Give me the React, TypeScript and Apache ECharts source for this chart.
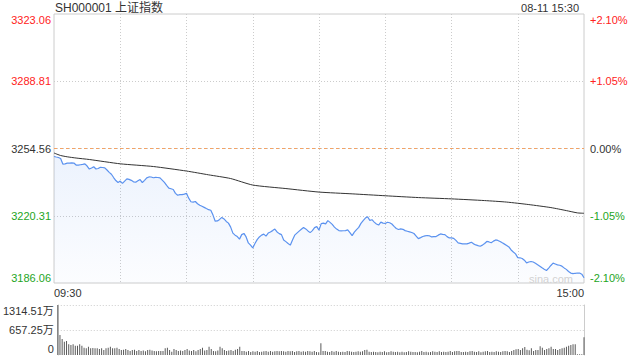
import React, { useEffect, useRef } from 'react';
import * as echarts from 'echarts';

const TITLE = 'SH000001 上证指数';
const DATE_TIME = '08-11 15:30';
const WATERMARK = 'sina.com';
const PREV_CLOSE = 3254.56;
const TIME_LABELS = ['09:30', '15:00'];

// minute prices, 09:30 .. 11:30 / 13:00 .. 15:00 (241 points)
const PRICE = [
  3250.48, 3250.22, 3249.97, 3249.46, 3246.65, 3246.70, 3247.11, 3247.16, 3247.22, 3247.16,
  3246.14, 3246.10, 3246.30, 3246.50, 3246.76, 3245.63, 3244.10, 3244.61, 3245.28, 3244.10,
  3244.36, 3245.02, 3244.87, 3244.72, 3243.59, 3242.42, 3241.45, 3239.77, 3238.24, 3237.22,
  3237.98, 3236.81, 3237.98, 3239.11, 3238.85, 3238.34, 3237.58, 3237.42, 3238.14, 3238.75,
  3237.22, 3238.34, 3239.62, 3240.08, 3240.05, 3239.67, 3239.82, 3239.80, 3239.62, 3238.49,
  3237.32, 3235.79, 3234.41, 3234.06, 3233.65, 3231.71, 3230.74, 3231.10, 3231.08, 3231.35,
  3231.71, 3229.26, 3227.43, 3227.22, 3227.58, 3226.41, 3225.64, 3225.13, 3224.57, 3223.96,
  3223.40, 3223.09, 3220.64, 3217.53, 3217.69, 3218.45, 3219.47, 3218.70, 3217.43, 3216.56,
  3214.52, 3211.46, 3210.44, 3209.68, 3208.40, 3210.70, 3211.31, 3209.52, 3206.46, 3205.34,
  3203.91, 3206.21, 3208.15, 3209.52, 3210.44, 3210.95, 3209.93, 3211.51, 3212.07, 3212.74,
  3213.50, 3212.07, 3211.21, 3210.70, 3207.99, 3207.13, 3206.21, 3205.34, 3207.99, 3210.44,
  3211.46, 3212.48, 3213.45, 3214.37, 3213.60, 3212.58, 3211.72, 3212.74, 3214.27, 3214.78,
  3212.99, 3216.31, 3216.56, 3216.20, 3217.84, 3216.92, 3215.90, 3214.52, 3213.50, 3212.74,
  3212.63, 3212.68, 3212.74, 3213.14, 3211.72, 3210.19, 3211.97, 3213.25, 3214.37, 3216.41,
  3217.84, 3219.11, 3219.77, 3217.94, 3218.30, 3217.07, 3216.15, 3215.59, 3217.07, 3216.56,
  3216.41, 3217.02, 3216.76, 3216.10, 3214.88, 3213.81, 3213.30, 3213.60, 3213.40, 3212.74,
  3212.43, 3212.12, 3211.77, 3211.26, 3209.98, 3208.66, 3209.17, 3209.73, 3210.03, 3210.24,
  3210.08, 3209.52, 3209.63, 3209.68, 3210.44, 3211.05, 3210.85, 3210.70, 3209.68, 3209.01,
  3209.05, 3208.81, 3207.74, 3206.51, 3206.26, 3206.00, 3205.95, 3205.97, 3206.36, 3206.82,
  3206.00, 3205.44, 3205.09, 3204.78, 3205.34, 3206.21, 3207.23, 3206.97, 3206.56, 3207.38,
  3207.99, 3207.74, 3207.23, 3206.51, 3205.85, 3205.19, 3204.42, 3202.89, 3201.87, 3200.90,
  3198.96, 3198.90, 3198.56, 3197.69, 3196.31, 3196.77, 3197.03, 3196.77, 3196.16, 3195.39,
  3194.63, 3193.81, 3193.05, 3192.44, 3193.66, 3194.99, 3196.16, 3195.75, 3195.29, 3195.09,
  3194.63, 3193.76, 3193.00, 3191.93, 3191.11, 3190.80, 3191.01, 3191.16, 3191.14, 3190.55, 3188.76,
];

// average price line, sampled at these minute indices
const AVG_MINUTE = [0, 3, 6, 10, 16, 30, 45, 60, 70, 80, 90, 105, 120, 135, 150, 165, 180, 195, 205, 215, 225, 232, 237, 240];
const AVG_PRICE = [
  3252.26, 3250.99, 3250.33, 3249.71, 3248.95, 3246.76, 3245.38, 3243.08, 3241.15, 3239.26,
  3235.94, 3234.16, 3232.37, 3231.46, 3230.49, 3229.57, 3228.91, 3228.04, 3227.27, 3226.00,
  3224.47, 3222.94, 3221.77, 3221.56,
];

// minute volume, in 万
const VOLUME = [
  1314.51, 526, 420, 350, 368, 280, 263, 280, 245, 245,
  280, 245, 193, 175, 219, 175, 184, 175, 180, 158,
  175, 131, 175, 193, 219, 175, 180, 193, 158, 131,
  140, 158, 131, 105, 131, 140, 105, 131, 105, 120,
  96, 131, 140, 120, 105, 96, 105, 105, 105, 175,
  193, 131, 88, 158, 131, 105, 120, 105, 131, 158,
  120, 105, 131, 96, 131, 158, 193, 120, 131, 219,
  158, 105, 96, 120, 219, 175, 131, 105, 120, 131,
  105, 140, 158, 219, 105, 105, 88, 105, 79, 96,
  88, 105, 79, 88, 96, 105, 88, 105, 88, 96,
  105, 96, 105, 96, 88, 105, 96, 105, 79, 96,
  105, 88, 96, 88, 105, 96, 88, 105, 79, 70,
  307, 105, 105, 88, 79, 105, 88, 105, 88, 79,
  88, 79, 105, 96, 88, 79, 88, 96, 88, 96,
  131, 140, 88, 79, 88, 79, 70, 88, 79, 96,
  70, 79, 96, 88, 79, 88, 70, 88, 70, 79,
  96, 88, 79, 79, 70, 88, 105, 79, 88, 70,
  79, 96, 88, 79, 96, 79, 88, 79, 88, 105,
  79, 96, 105, 105, 79, 79, 88, 79, 96, 105,
  88, 79, 96, 70, 88, 96, 105, 79, 88, 79,
  96, 88, 79, 96, 105, 96, 79, 105, 131, 149,
  158, 131, 175, 210, 140, 123, 175, 105, 131, 131,
  228, 193, 131, 158, 175, 219, 158, 158, 131, 158,
  175, 193, 219, 245, 263, 280, 280, 18, 18, 18, 464,
];

const PRICE_STEP = 34.25; // points per gridline
const PCT_STEP = 105; // 1.05% in hundredths of a percent
const VOL_MAX = 1314.51;

const RED = '#f22';
const GREEN = '#1ea51e';
const TXT = '#333';
const FONT = 'Arial, "Liberation Sans", "Noto Sans CJK SC", sans-serif';
const GRID_C = '#cccccc';

export default function App() {
  const ref = useRef<HTMLDivElement>(null);
  useEffect(() => {
    if (!ref.current) return;
    const chart = echarts.init(ref.current, undefined, { renderer: 'svg' });
    const lab = (color: string, pad?: number[]) => ({
      color, fontSize: 11, fontFamily: FONT, ...(pad ? { padding: pad } : {}),
    });
    const option: any = {
      animation: false,
      textStyle: { fontFamily: FONT },
      grid: [
        { left: 54, right: 56, top: 14, height: 269, show: true, borderColor: GRID_C, borderWidth: 1, backgroundColor: 'transparent' },
        { left: 54, right: 56, top: 305, height: 50 },
      ],
      xAxis: [
        {
          type: 'value', gridIndex: 0, min: 0, max: 240, interval: 30,
          axisLine: { show: false }, axisTick: { show: false },
          splitLine: { show: true, showMinLine: false, showMaxLine: false, lineStyle: { color: GRID_C, type: [1, 2], width: 1 } },
          axisLabel: {
            show: true, margin: 4, color: TXT, fontSize: 11, fontFamily: FONT,
            alignMinLabel: 'left', alignMaxLabel: 'right',
            formatter: (v: number) => (v === 0 ? TIME_LABELS[0] : v === 240 ? TIME_LABELS[1] : ''),
          },
        },
        {
          type: 'value', gridIndex: 1, min: 0, max: 240, interval: 30,
          axisLine: { show: false }, axisTick: { show: false }, axisLabel: { show: false }, splitLine: { show: false },
        },
      ],
      yAxis: [
        {
          type: 'value', gridIndex: 0, position: 'left',
          min: -2 * PRICE_STEP, max: 2 * PRICE_STEP, interval: PRICE_STEP,
          axisLine: { show: false }, axisTick: { show: false },
          splitLine: { show: true, showMinLine: false, showMaxLine: false, lineStyle: { color: GRID_C, type: [1, 2], width: 1 } },
          axisLabel: {
            margin: 3,
            formatter: (v: number) => {
              const s = (PREV_CLOSE + v).toFixed(2);
              if (v > PRICE_STEP + 1) return `{rt|${s}}`;
              if (v > 1) return `{r|${s}}`;
              if (v < -PRICE_STEP - 1) return `{gb|${s}}`;
              if (v < -1) return `{g|${s}}`;
              return `{k|${s}}`;
            },
            rich: {
              rt: lab(RED, [11, 0, 0, 0]), r: lab(RED), k: lab(TXT), g: lab(GREEN), gb: lab(GREEN, [0, 0, 11, 0]),
            },
          },
        },
        {
          type: 'value', gridIndex: 0, position: 'right',
          min: -2 * PCT_STEP, max: 2 * PCT_STEP, interval: PCT_STEP,
          axisLine: { show: false }, axisTick: { show: false }, splitLine: { show: false },
          axisLabel: {
            margin: 6,
            formatter: (v: number) => {
              const s = (Math.abs(v) / 100).toFixed(2) + '%';
              if (v > PCT_STEP + 1) return `{rt|+${s}}`;
              if (v > 1) return `{r|+${s}}`;
              if (v < -PCT_STEP - 1) return `{gb|-${s}}`;
              if (v < -1) return `{g|-${s}}`;
              return `{k|${s}}`;
            },
            rich: {
              rt: lab(RED, [11, 0, 0, 0]), r: lab(RED), k: lab(TXT), g: lab(GREEN), gb: lab(GREEN, [0, 0, 11, 0]),
            },
          },
        },
        {
          type: 'value', gridIndex: 1, position: 'left',
          min: 0, max: VOL_MAX, interval: VOL_MAX / 2,
          axisLine: { show: true, lineStyle: { color: GRID_C } }, axisTick: { show: false },
          splitLine: { show: true, showMinLine: false, showMaxLine: true, lineStyle: { color: GRID_C, type: [1, 2], width: 1 } },
          axisLabel: {
            margin: 4,
            formatter: (v: number) => {
              if (v < 1) return `{b|0}`;
              const s = (Math.floor(v * 100 + 1e-6) / 100).toFixed(2) + '万';
              if (v > VOL_MAX * 0.75) return `{t|${s}}`;
              return `{k|${s}}`;
            },
            rich: { t: lab(TXT, [12, 0, 0, 0]), k: lab(TXT), b: lab(TXT, [0, 0, 13, 0]) },
          },
        },
        {
          type: 'value', gridIndex: 1, position: 'right', min: 0, max: 1,
          axisLine: { show: true, lineStyle: { color: GRID_C } }, axisTick: { show: false },
          axisLabel: { show: false }, splitLine: { show: false },
        },
      ],
      series: [
        {
          type: 'line', xAxisIndex: 0, yAxisIndex: 0,
          data: PRICE.map((p, i) => [i, +(p - PREV_CLOSE).toFixed(2)]),
          showSymbol: false, symbol: 'none',
          lineStyle: { color: '#5b92ef', width: 1.2 },
          areaStyle: {
            origin: 'start',
            color: new echarts.graphic.LinearGradient(0, 0, 0, 1, [
              { offset: 0, color: 'rgba(91,146,239,0.16)' },
              { offset: 1, color: 'rgba(91,146,239,0.03)' },
            ]),
          },
          markLine: {
            silent: true, symbol: 'none', label: { show: false },
            lineStyle: { color: '#f4a365', type: [3, 3], width: 1 },
            data: [{ yAxis: 0 }],
          },
          z: 3,
        },
        {
          type: 'line', xAxisIndex: 0, yAxisIndex: 0,
          data: AVG_MINUTE.map((m, k) => [m, +(AVG_PRICE[k] - PREV_CLOSE).toFixed(2)]),
          showSymbol: false, symbol: 'none', smooth: 0.2,
          lineStyle: { color: '#333', width: 1 },
          z: 4,
        },
        {
          type: 'bar', xAxisIndex: 1, yAxisIndex: 2,
          data: VOLUME.map((v, i) => [i, v]),
          barWidth: 1,
          itemStyle: { color: '#5a5a5a' },
        },
      ],
      graphic: [
        { type: 'text', x: 55, y: 8, style: { text: TITLE, fill: TXT, font: `12px ${FONT}`, align: 'left', verticalAlign: 'middle' } },
        { type: 'text', x: 579, y: 8, style: { text: DATE_TIME, fill: TXT, font: `11px ${FONT}`, align: 'right', verticalAlign: 'middle' } },
        { type: 'text', x: 573, y: 279, z: 10, style: { text: WATERMARK, fill: '#d2d2d2', font: `11px ${FONT}`, align: 'right', verticalAlign: 'middle' } },
      ],
    };
    chart.setOption(option);
    return () => chart.dispose();
  }, []);
  return <div ref={ref} style={{ position: 'absolute', left: 0, top: 0, width: 640, height: 360 }} />;
}
